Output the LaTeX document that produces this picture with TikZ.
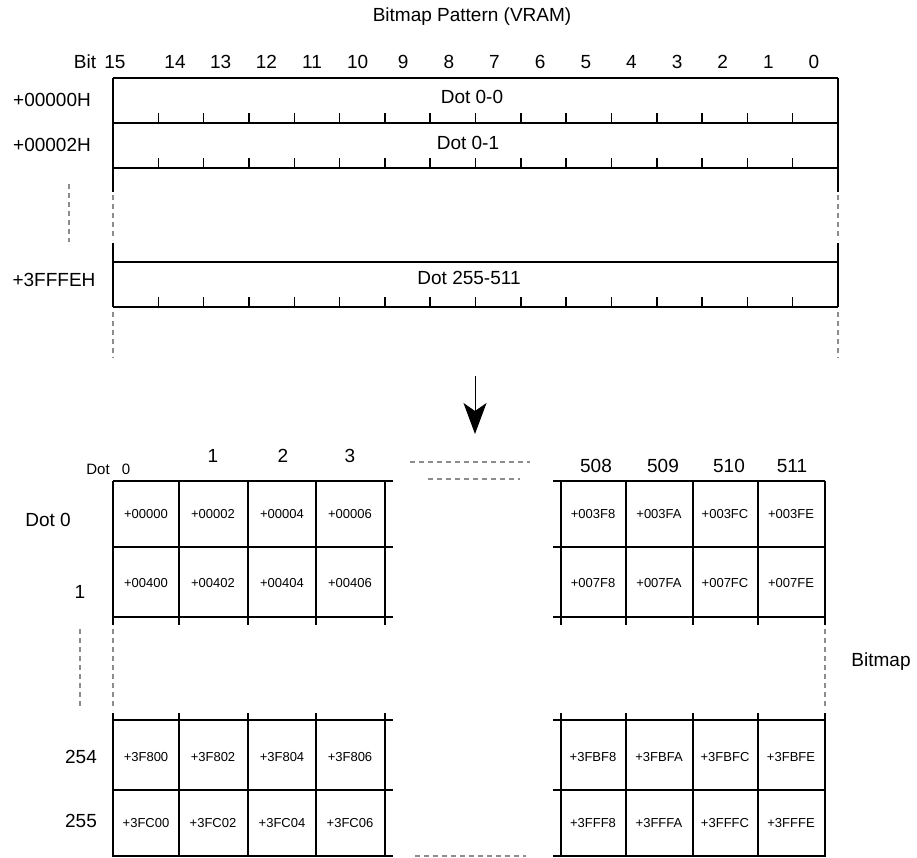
\documentclass[tikz,border=0pt]{standalone}
\usepackage{fontspec}
\setmainfont{Liberation Sans}
\usetikzlibrary{arrows.meta}
\definecolor{dashgray}{RGB}{140,140,140}

\begin{document}
\begin{tikzpicture}[x=1pt, y=-1pt,
    rule/.style={line width=1.5pt},
    gap/.style={dashgray, line width=1.3pt, dash pattern=on 5pt off 4pt},
    big/.style={font=\fontsize{19}{21}\selectfont},
    small/.style={font=\fontsize{13}{15}\selectfont}]
    \useasboundingbox (0,0) rectangle (917,857);

    % VRAM words
    \node[big] (title) at (472,17) {Bitmap Pattern (VRAM)};
    \node[big] (bitname) at (85,62) {Bit};
    \node[big] (bit15) at (115,62) {15};
    \foreach \b in {0,...,14}
        \node[big] (bit\b) at (814-\b*45.64,62) {\b};

    \foreach \y in {78,123,168,262,307}
        \draw[rule] (113,\y) -- (838,\y);
    \foreach \y in {123,168,307}
        \foreach \k in {1,...,15}
            \draw[rule] (113+\k*45.3125,\y) -- ++(0,-10);
    \foreach \x in {113,838} {
        \draw[rule] (\x,78) -- (\x,192);
        \draw[gap] (\x,195) -- (\x,240);
        \draw[rule] (\x,243) -- (\x,307);
        \draw[gap] (\x,312) -- (\x,358);
    }
    \draw[gap] (69,184) -- (69,242);

    \node[big] (addr0) at (52,100) {+00000H};
    \node[big] (addr2) at (52,145) {+00002H};
    \node[big] (addrlast) at (54,280) {+3FFFEH};
    \node[big] (word0) at (472,97) {Dot 0-0};
    \node[big] (word1) at (468,143) {Dot 0-1};
    \node[big] (wordlast) at (469,278) {Dot 255-511};

    % arrow
    \coordinate (arrowtop) at (475,376);
    \coordinate (arrowtip) at (475,434);
    \draw[line width=1pt, -{Stealth[length=31pt, width=23pt, inset=8pt]}] (arrowtop) -- (arrowtip);

    % dot grid
    \node[font=\fontsize{15}{17}\selectfont] (dothead) at (98,469) {Dot};
    \node[font=\fontsize{15}{17}\selectfont] (col0) at (126,469) {0};
    \node[big] (col1) at (213,456) {1};
    \node[big] (col2) at (283,456) {2};
    \node[big] (col3) at (350,456) {3};
    \node[big] (col508) at (596,466) {508};
    \node[big] (col509) at (663,466) {509};
    \node[big] (col510) at (729,466) {510};
    \node[big] (col511) at (792,466) {511};

    \node[big] (row0) at (48,520) {Dot 0};
    \node[big] (row1) at (80,592) {1};
    \node[big] (row254) at (81,757) {254};
    \node[big] (row255) at (81,821) {255};
    \node[big] (bitmap) at (881,662) {Bitmap};

    \foreach \y in {481,547,617,720,790,856} {
        \draw[rule] (113,\y) -- (393,\y);
        \draw[rule] (553,\y) -- (825,\y);
    }
    \foreach \x in {113,179,248,316,385,561,626,693,758,825} {
        \draw[rule] (\x,481) -- (\x,625);
        \draw[rule] (\x,713) -- (\x,857);
    }
    \foreach \x in {80,113,825}
        \draw[gap] (\x,629) -- (\x,710);
    \draw[gap] (410,462) -- (530,462);
    \draw[gap] (428,479) -- (520,479);
    \draw[gap] (415,856) -- (526,856);

    \foreach \x/\t [count=\i] in {146/+00000, 213/+00002, 282/+00004, 350/+00006,
                                 593/+003F8, 659/+003FA, 725/+003FC, 791/+003FE}
        \node[small] (ra\i) at (\x,514) {\t};
    \foreach \x/\t [count=\i] in {146/+00400, 213/+00402, 282/+00404, 350/+00406,
                                 593/+007F8, 659/+007FA, 725/+007FC, 791/+007FE}
        \node[small] (rb\i) at (\x,583) {\t};
    \foreach \x/\t [count=\i] in {146/+3F800, 213/+3F802, 282/+3F804, 350/+3F806,
                                 593/+3FBF8, 659/+3FBFA, 725/+3FBFC, 791/+3FBFE}
        \node[small] (rc\i) at (\x,757) {\t};
    \foreach \x/\t [count=\i] in {146/+3FC00, 213/+3FC02, 282/+3FC04, 350/+3FC06,
                                 593/+3FFF8, 659/+3FFFA, 725/+3FFFC, 791/+3FFFE}
        \node[small] (rd\i) at (\x,823) {\t};
\end{tikzpicture}
\end{document}
